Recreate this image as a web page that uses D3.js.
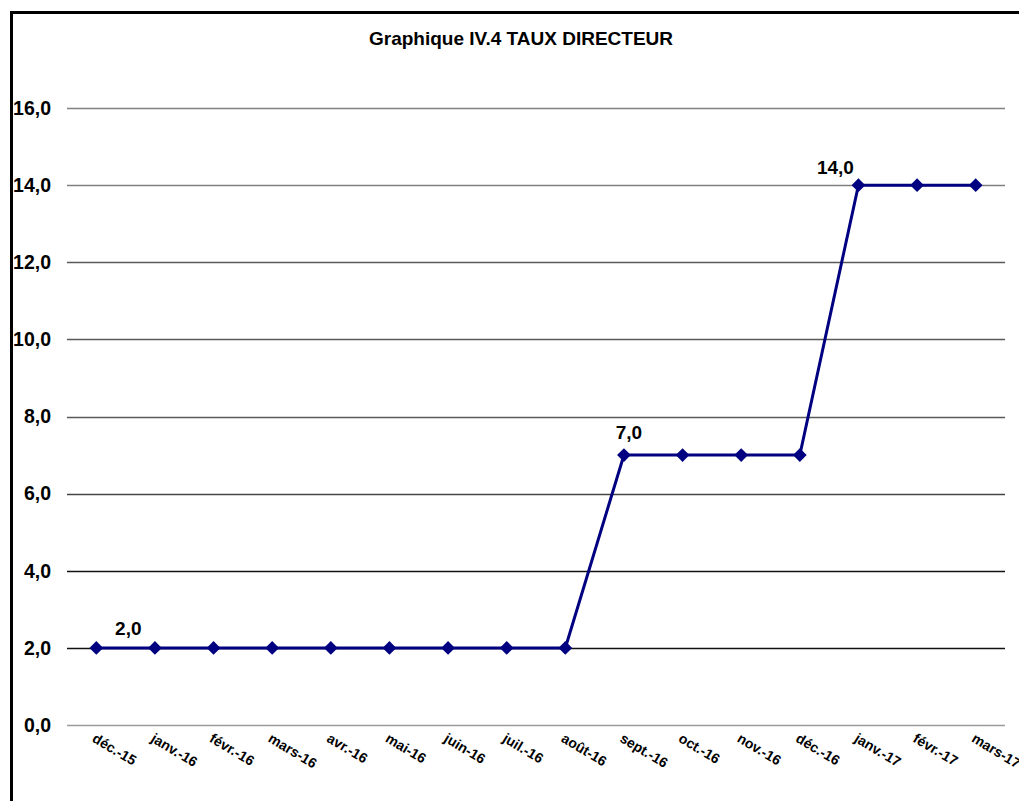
<!DOCTYPE html>
<html>
<head>
<meta charset="utf-8">
<script src="https://cdn.jsdelivr.net/npm/d3@7"></script>
<style>
	body { margin: 0; background: #fff; }
	svg { display: block; font-family: "Liberation Sans", Arial, sans-serif; }
</style>
</head>
<body>
<svg width="1019" height="801"></svg>
<script>
// Data: taux directeur par mois
var months = ["déc.-15", "janv.-16", "févr.-16", "mars-16", "avr.-16", "mai-16", "juin-16",
	"juil.-16", "août-16", "sept.-16", "oct.-16", "nov.-16", "déc.-16", "janv.-17", "févr.-17", "mars-17"]
var rates = [2, 2, 2, 2, 2, 2, 2, 2, 2, 7, 7, 7, 7, 14, 14, 14]
var yTicks = [0, 2, 4, 6, 8, 10, 12, 14, 16]
var labelled = [0, 9, 13] // points that carry a value label
var title = "Graphique IV.4 TAUX DIRECTEUR"

var svg = d3.select("svg")
var margin = {top: 108, left: 67, right: 14, bottom: 76}
var width = 1019 - margin.left - margin.right
var height = 801 - margin.top - margin.bottom

// outer frame
svg.append("rect")
	.attr("x", 11.5).attr("y", 12.5)
	.attr("width", 1019).attr("height", 801)
	.attr("fill", "none").attr("stroke", "#000").attr("stroke-width", 3)

svg.append("text")
	.attr("x", 521).attr("y", 45)
	.attr("text-anchor", "middle")
	.style("font-size", "19px").style("font-weight", "bold")
	.text(title)

var g = svg.append("g").attr("transform", "translate(" + margin.left + "," + margin.top + ")")

var x = d3.scaleBand().domain(months).range([0, width])
var y = d3.scaleLinear().domain([0, 16]).range([height, 0])

// gridlines, shade varies slightly like the original
var gridColor = function(v) {
	if (v === 0) return "#9a9a9a"
	if (v >= 14) return "#808080"
	if (v >= 8) return "#5a5a5a"
	if (v >= 6) return "#444"
	return "#111"
}
g.selectAll(".grid")
	.data(yTicks)
	.enter().append("line")
	.attr("class", "grid")
	.attr("x1", 0).attr("x2", width)
	.attr("y1", function(d) { return Math.round(y(d)) + 0.5 })
	.attr("y2", function(d) { return Math.round(y(d)) + 0.5 })
	.attr("stroke", gridColor)
	.attr("stroke-width", 1.3)

var fmt = function(v) { return d3.format(".1f")(v).replace(".", ",") }

// y axis labels
var yAxis = g.append("g")
	.call(d3.axisLeft(y).tickValues(yTicks).tickFormat(fmt).tickSize(0).tickPadding(16))
yAxis.select(".domain").remove()
yAxis.selectAll("text")
	.style("font-size", "19.5px").style("font-weight", "bold")
	.style("font-family", "'Liberation Sans', Arial, sans-serif")
	.attr("fill", "#000")

// x axis labels, rotated
var xAxis = g.append("g")
	.attr("transform", "translate(0," + height + ")")
	.call(d3.axisBottom(x).tickSize(0))
xAxis.select(".domain").remove()
xAxis.selectAll("text")
	.attr("text-anchor", "start")
	.attr("dy", null)
	.attr("y", 0)
	.attr("transform", "translate(-5,16) rotate(31)")
	.style("font-size", "14px").style("font-weight", "bold")
	.style("font-family", "'Liberation Sans', Arial, sans-serif")
	.attr("fill", "#000")

var cx = function(i) { return x(months[i]) + x.bandwidth() / 2 }

var line = d3.line()
	.x(function(d, i) { return cx(i) })
	.y(function(d) { return y(d) })

g.append("path")
	.datum(rates)
	.attr("d", line)
	.attr("fill", "none")
	.attr("stroke", "#000080")
	.attr("stroke-width", 3)

g.selectAll(".pt")
	.data(rates)
	.enter().append("path")
	.attr("class", "pt")
	.attr("d", d3.symbol().type(d3.symbolDiamond2).size(120))
	.attr("transform", function(d, i) { return "translate(" + cx(i) + "," + y(d) + ")" })
	.attr("fill", "#000080")

// value labels (offsets as placed in the original)
var labelShift = {0: [32, -13], 9: [5, -16], 13: [-23, -11]}
g.selectAll(".vlab")
	.data(labelled)
	.enter().append("text")
	.attr("class", "vlab")
	.attr("x", function(i) { return cx(i) + labelShift[i][0] })
	.attr("y", function(i) { return y(rates[i]) + labelShift[i][1] })
	.attr("text-anchor", "middle")
	.style("font-size", "19px").style("font-weight", "bold")
	.text(function(i) { return fmt(rates[i]) })
</script>
</body>
</html>
